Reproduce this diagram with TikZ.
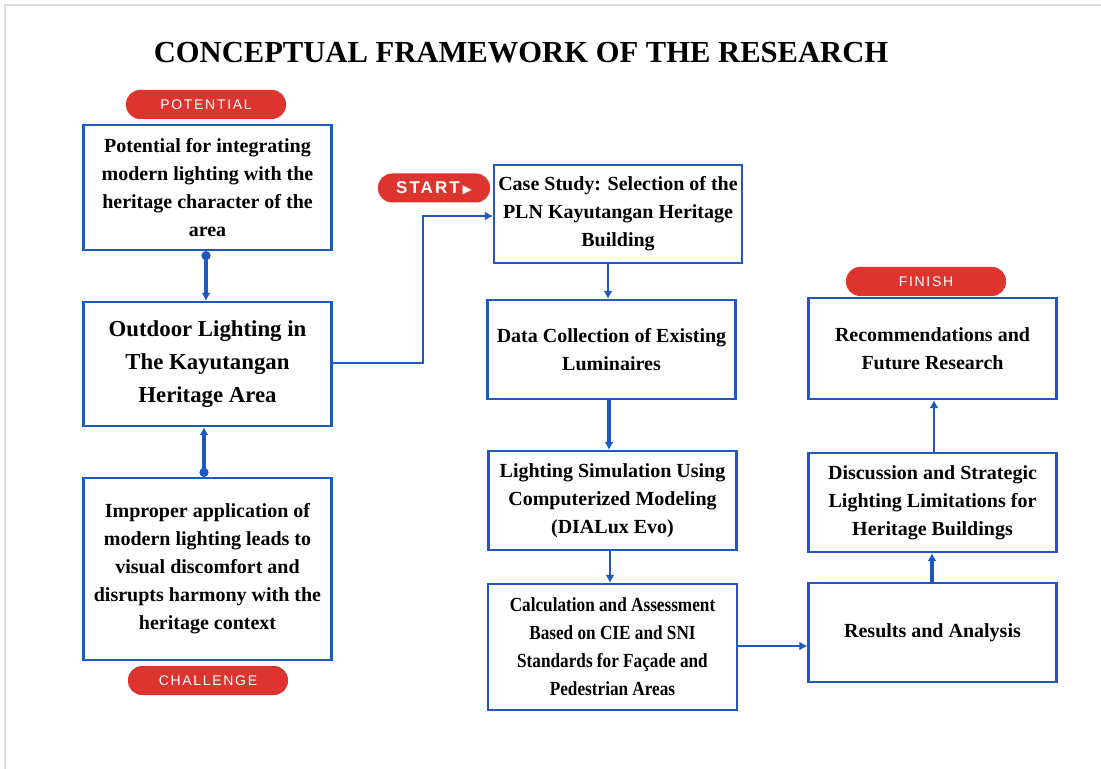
\documentclass[tikz,border=0pt]{standalone}
\usepackage{fontspec}
\setmainfont{Liberation Serif}
\newfontfamily\narrowserif[FakeStretch=0.86]{Liberation Serif}
\newfontfamily\pillfont[LetterSpace=12]{Liberation Sans}
\newfontfamily\symfont{DejaVu Sans}
\usepackage{xcolor}
\usetikzlibrary{arrows.meta, positioning}

\definecolor{boxblue}{HTML}{1F58BF}
\definecolor{pillred}{HTML}{DD3430}
\definecolor{framegray}{HTML}{DDDDDD}

\begin{document}
\begin{tikzpicture}[
  x=0.5pt, y=-0.5pt,
  block/.style={draw=boxblue, line width=1.1pt, fill=white, rectangle, align=center,
    inner xsep=2pt, minimum width=124pt, font=\bfseries\fontsize{10}{14}\selectfont},
  mainblock/.style={block, font=\bfseries\fontsize{11.4}{16.5}\selectfont},
  pill/.style={fill=pillred, rounded corners=7pt, minimum width=80pt, minimum height=14.5pt,
    inner sep=0pt, text=white, font=\pillfont\fontsize{7}{8}\selectfont},
  arr/.style={-{Latex[length=4pt,width=4.5pt]}, draw=boxblue, line width=1pt},
  tarr/.style={-{Latex[length=4pt,width=4.5pt]}, draw=boxblue, line width=1.7pt},
  dotarr/.style={{Circle[length=4.5pt]}-{Latex[length=4pt,width=4.5pt]}, draw=boxblue, line width=1.7pt}
]
\useasboundingbox (0,0) rectangle (1101,769);
\draw[framegray, line width=1pt] (5,769) -- (5,5) -- (1101,5);

\node[font=\bfseries\fontsize{15.3}{18}\selectfont] (title) at (521,53) {CONCEPTUAL FRAMEWORK OF THE RESEARCH};

% left column
\node[block, minimum height=62.5pt] (pot) at (207.5,187.5)
  {Potential for integrating\\modern lighting with the\\heritage character of the\\area};
\node[mainblock, minimum height=62pt] (out) at (207.5,364)
  {Outdoor Lighting in\\The Kayutangan\\Heritage Area};
\node[block, minimum height=91pt] (imp) at (207.5,569)
  {Improper application of\\modern lighting leads to\\visual discomfort and\\disrupts harmony with the\\heritage context};
\node[pill] (potential) at (206,104.5) {POTENTIAL};
\node[pill] (challenge) at (208,680.5) {CHALLENGE};

% middle column
\node[block, minimum height=49pt] (case) at (618,214)
  {Case Study: Selection of the\\PLN Kayutangan Heritage\\Building};
\node[block, minimum height=49.5pt] (data) at (611.5,349.5)
  {Data Collection of Existing\\Luminaires};
\node[block, minimum height=49.5pt] (sim) at (612.5,500.5)
  {Lighting Simulation Using\\Computerized Modeling\\(DIALux Evo)};
\node[block, minimum height=63pt, minimum width=124.5pt, font=\narrowserif\bfseries\fontsize{10}{14}\selectfont] (calc) at (612.5,647)
  {Calculation and Assessment\\Based on CIE and SNI\\Standards for Façade and\\Pedestrian Areas};
\node[pill, minimum width=56pt, font=\pillfont\bfseries\fontsize{8.5}{9}\selectfont] (start) at (434,188)
  {START\,{\symfont\fontsize{6}{6}\selectfont ▶}};

% right column
\node[block, minimum height=50.5pt] (rec) at (932.5,348.5)
  {Recommendations and\\Future Research};
\node[block, minimum height=49.5pt] (disc) at (932.5,502.5)
  {Discussion and Strategic\\Lighting Limitations for\\Heritage Buildings};
\node[block, minimum height=49.5pt] (res) at (932.5,632.5)
  {Results and Analysis};
\node[pill] (finish) at (926,281.5) {FINISH};

\coordinate (bend) at (423,363);

\draw[dotarr] (pot.south -| 206,0) -- (out.north -| 206,0);
\draw[dotarr] (imp.north -| 204,0) -- (out.south -| 204,0);
\draw[arr] (out.east |- bend) -- (bend) |- (case.west |- 0,216);
\draw[arr] (case.south -| 608,0) -- (data.north -| 608,0);
\draw[tarr] (data.south -| 609,0) -- (sim.north -| 609,0);
\draw[arr] (sim.south -| 610,0) -- (calc.north -| 610,0);
\draw[arr] (calc.east |- 0,646) -- (res.west |- 0,646);
\draw[tarr] (res.north -| 932,0) -- (disc.south -| 932,0);
\draw[arr] (disc.north -| 934,0) -- (rec.south -| 934,0);
\end{tikzpicture}
\end{document}
